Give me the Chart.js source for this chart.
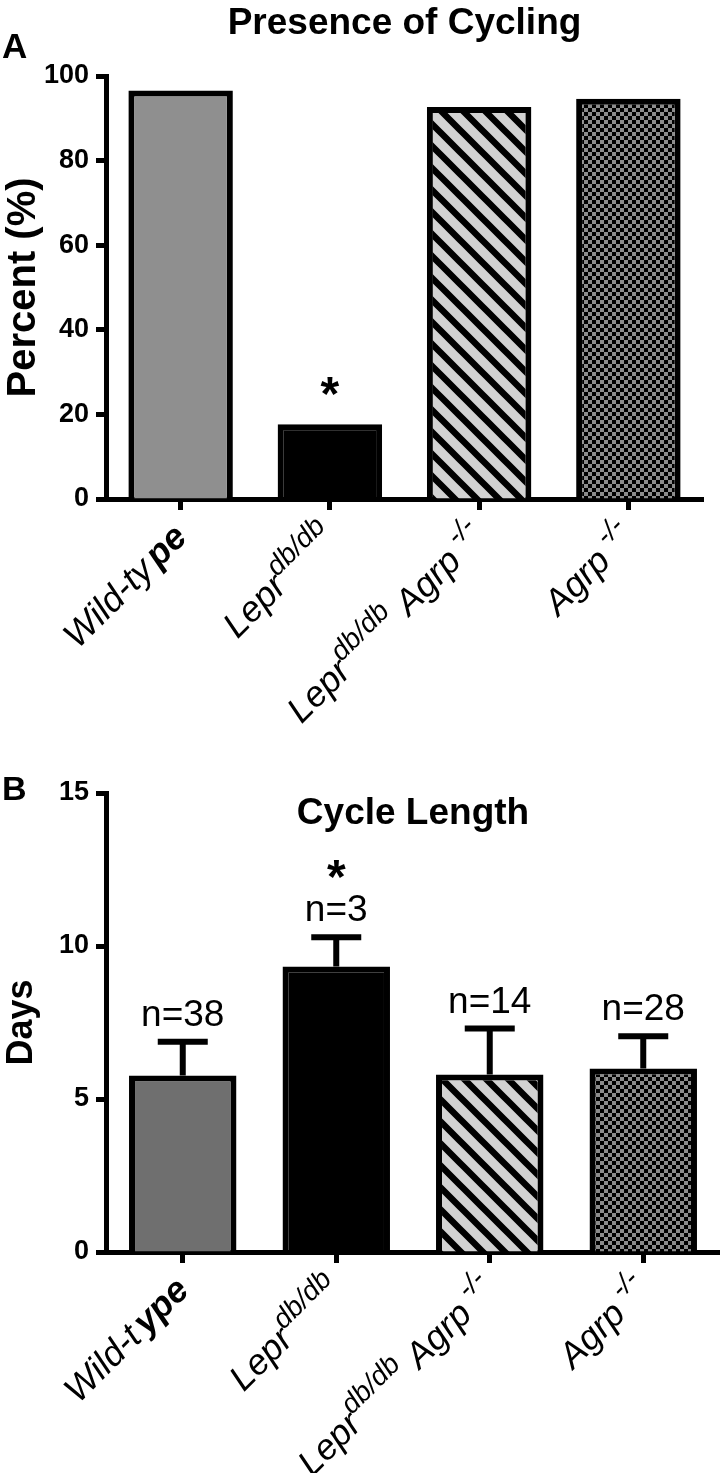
<!DOCTYPE html>
<html>
<head>
<meta charset="utf-8">
<script src="https://cdn.jsdelivr.net/npm/chart.js@4.4.1/dist/chart.umd.min.js"></script>
<style>
    html, body { margin: 0; padding: 0; background: #fff; }
    .panel { position: relative; width: 720px; }
    #wrapA { height: 725px; }
    #wrapB { height: 748px; }
</style>
</head>
<body>
<div class="panel" id="wrapA"><canvas id="chartA"></canvas></div>
<div class="panel" id="wrapB"><canvas id="chartB"></canvas></div>
<script>
// Data
var groups = ['Wild-type', 'Lepr db/db', 'Lepr db/db Agrp -/-', 'Agrp -/-'];
var cyclingPercent = [96.6, 17.7, 92.7, 94.6];
var cycleDays = [5.77, 9.33, 5.8, 6.0];
var cycleSem = [1.1, 0.96, 1.5, 1.05];
var cycleN = [38, 3, 14, 28];
var percentTicks = [0, 20, 40, 60, 80, 100];
var dayTicks = [0, 5, 10, 15];

// Axis label pieces (italic, some bold, superscripts)
var labelsA = [
    [{t: 'Wild-ty'}, {t: 'pe', b: true, gap: 5}],
    [{t: 'Lepr'}, {t: 'db/db', sup: true}],
    [{t: 'Lepr'}, {t: 'db/db', sup: true}, {t: ' Agrp'}, {t: ' -/-', sup: true}],
    [{t: 'Agrp'}, {t: ' -/-', sup: true}]
];
var labelsB = [
    [{t: 'Wild-t'}, {t: 'ype', b: true, gap: 5}],
    [{t: 'Lepr'}, {t: 'db/db', sup: true}],
    [{t: 'Lepr'}, {t: 'db/db', sup: true}, {t: ' Agrp'}, {t: ' -/-', sup: true}],
    [{t: 'Agrp'}, {t: ' -/-', sup: true}]
];

var FONT = '"Liberation Sans", Arial, sans-serif';

// Fill patterns
function hatchPattern() {
    var p = 22, c = document.createElement('canvas');
    c.width = p; c.height = p;
    var g = c.getContext('2d');
    g.fillStyle = '#d2d2d2';
    g.fillRect(0, 0, p, p);
    g.strokeStyle = '#000';
    g.lineWidth = 6.5;
    g.beginPath();
    g.moveTo(-p, 0); g.lineTo(p, 2 * p);
    g.moveTo(0, 0); g.lineTo(p, p);
    g.moveTo(0, -p); g.lineTo(2 * p, p);
    g.stroke();
    return g.createPattern(c, 'repeat');
}
function checkerPattern(light) {
    var s = 4, c = document.createElement('canvas');
    c.width = 2 * s; c.height = 2 * s;
    var g = c.getContext('2d');
    g.fillStyle = light;
    g.fillRect(0, 0, 2 * s, 2 * s);
    g.fillStyle = '#000';
    g.fillRect(0, 0, s, s);
    g.fillRect(s, s, s, s);
    return g.createPattern(c, 'repeat');
}

// draws rotated category labels
function drawLabels(chart, pieces) {
    var ctx = chart.ctx, xs = chart.scales.x;
    var size = 36, supSize = 28;
    ctx.save();
    ctx.fillStyle = '#000';
    ctx.textBaseline = 'alphabetic';
    ctx.textAlign = 'left';
    pieces.forEach(function (segs, i) {
        var x = xs.getPixelForValue(i);
        var y = xs.top;
        var widths = segs.map(function (s) {
            ctx.font = 'italic ' + (s.b ? 'bold ' : '') + (s.sup ? supSize : size) + 'px ' + FONT;
            return ctx.measureText(s.t).width + (s.gap || 0);
        });
        var total = widths.reduce(function (a, b) { return a + b; }, 0);
        ctx.save();
        ctx.translate(x + 8, y + 40);
        ctx.rotate(-Math.PI / 4);
        var cx = -total;
        segs.forEach(function (s, j) {
            ctx.font = 'italic ' + (s.b ? 'bold ' : '') + (s.sup ? supSize : size) + 'px ' + FONT;
            ctx.fillText(s.t, cx + (s.gap || 0), s.sup ? -16 : 0);
            cx += widths[j];
        });
        ctx.restore();
    });
    ctx.restore();
}

function text(ctx, str, x, y, font, align) {
    ctx.save();
    ctx.font = font;
    ctx.fillStyle = '#000';
    ctx.textAlign = align || 'center';
    ctx.textBaseline = 'alphabetic';
    ctx.fillText(str, x, y);
    ctx.restore();
}

function baseOptions(ticksArr, maxV, yTitle, titleSize, chartTop, xHeight) {
    return {
        responsive: true,
        maintainAspectRatio: false,
        animation: false,
        layout: { padding: { left: 0, right: 0, top: chartTop, bottom: 0 } },
        plugins: {
            legend: { display: false },
            tooltip: { enabled: false },
            title: { display: false }
        },
        scales: {
            x: {
                offset: true,
                grid: { display: true, drawOnChartArea: false, offset: false, color: '#000', tickLength: 11, tickWidth: 5 },
                border: { display: true, color: '#000', width: 5 },
                ticks: { display: false },
                afterFit: function (s) { s.height = xHeight; }
            },
            y: {
                min: 0,
                max: maxV,
                afterBuildTicks: function (s) { s.ticks = ticksArr.map(function (v) { return { value: v }; }); },
                grid: { display: true, drawOnChartArea: false, color: '#000', tickLength: 10, tickWidth: 5 },
                border: { display: true, color: '#000', width: 5 },
                ticks: { color: '#000', padding: 7, font: { family: FONT, size: 27, weight: 'bold' } },
                title: { display: true, text: yTitle, color: '#000', padding: { top: 0, bottom: 4 }, font: { family: FONT, size: titleSize, weight: 'bold' } },
                afterFit: function (s) { s.width = 106; }
            }
        }
    };
}

// Panel A
var optsA = baseOptions(percentTicks, 100, 'Percent (%)', 40, 0, 226);
optsA.plugins.title = {
    display: true,
    text: 'Presence of Cycling',
    fullSize: false,
    color: '#000',
    font: { family: FONT, size: 37, weight: 'bold', lineHeight: 1.0 },
    padding: { top: 5, bottom: 34 }
};
optsA.layout.padding.right = 17;

var chartA = new Chart(document.getElementById('chartA'), {
    type: 'bar',
    data: {
        labels: groups,
        datasets: [{
            data: cyclingPercent,
            backgroundColor: ['#8f8f8f', '#000000', hatchPattern(), checkerPattern('#8c8c8c')],
            borderColor: '#000',
            borderWidth: 6,
            borderSkipped: 'bottom',
            barPercentage: 0.7,
            categoryPercentage: 1
        }]
    },
    options: optsA,
    plugins: [{
        id: 'extrasA',
        afterDraw: function (chart) {
            var ctx = chart.ctx, xs = chart.scales.x, ys = chart.scales.y;
            drawLabels(chart, labelsA);
            text(ctx, 'A', 2, 58, 'bold 35px ' + FONT, 'left');
            text(ctx, '*', xs.getPixelForValue(1), ys.getPixelForValue(cyclingPercent[1]) - 14, 'bold 48px ' + FONT);
        }
    }]
});

// Panel B
var optsB = baseOptions(dayTicks, 15, 'Days', 36, 68, 221);
var chartB = new Chart(document.getElementById('chartB'), {
    type: 'bar',
    data: {
        labels: groups,
        datasets: [{
            data: cycleDays,
            backgroundColor: ['#6f6f6f', '#000000', hatchPattern(), checkerPattern('#8c8c8c')],
            borderColor: '#000',
            borderWidth: 6,
            borderSkipped: 'bottom',
            barPercentage: 0.7,
            categoryPercentage: 1
        }]
    },
    options: optsB,
    plugins: [{
        id: 'extrasB',
        afterDatasetsDraw: function (chart) {
            var ctx = chart.ctx, xs = chart.scales.x, ys = chart.scales.y;
            ctx.save();
            ctx.strokeStyle = '#000';
            ctx.lineWidth = 6;
            cycleDays.forEach(function (m, i) {
                var x = xs.getPixelForValue(i);
                var y0 = ys.getPixelForValue(m);
                var y1 = ys.getPixelForValue(m + cycleSem[i]);
                ctx.beginPath();
                ctx.moveTo(x, y0);
                ctx.lineTo(x, y1);
                ctx.moveTo(x - 25, y1);
                ctx.lineTo(x + 25, y1);
                ctx.stroke();
            });
            ctx.restore();
        },
        afterDraw: function (chart) {
            var ctx = chart.ctx, xs = chart.scales.x, ys = chart.scales.y, area = chart.chartArea;
            drawLabels(chart, labelsB);
            text(ctx, 'B', 2, 75, 'bold 34px ' + FONT, 'left');
            text(ctx, 'Cycle Length', (area.left + area.right) / 2, area.top + 31, 'bold 37px ' + FONT);
            cycleN.forEach(function (n, i) {
                var y = ys.getPixelForValue(cycleDays[i] + cycleSem[i]) - 16;
                text(ctx, 'n=' + n, xs.getPixelForValue(i), y, '37px ' + FONT);
            });
            var yStar = ys.getPixelForValue(cycleDays[1] + cycleSem[1]) - 44;
            text(ctx, '*', xs.getPixelForValue(1), yStar, 'bold 48px ' + FONT);
        }
    }]
});
</script>
</body>
</html>
